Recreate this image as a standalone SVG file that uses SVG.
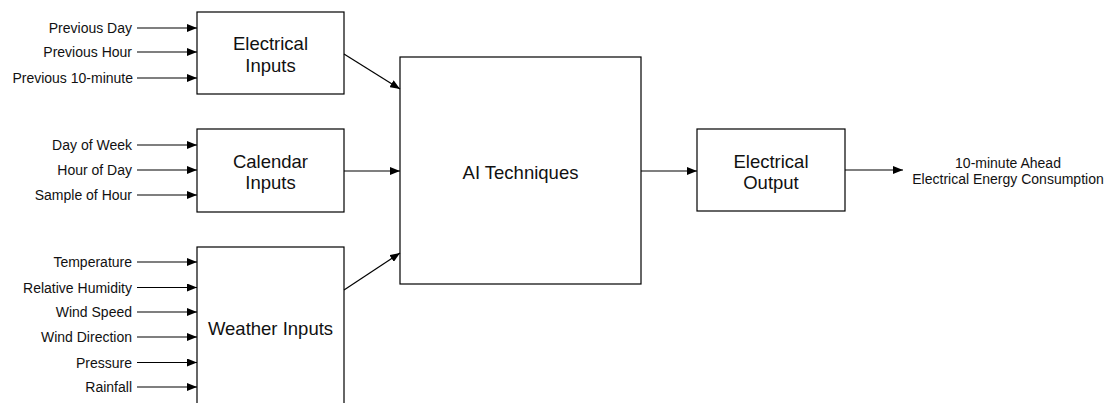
<svg xmlns="http://www.w3.org/2000/svg" width="1112" height="403" viewBox="0 0 1112 403">
<defs>
<marker id="ah" viewBox="0 0 10 8" refX="10" refY="4" markerWidth="10" markerHeight="8" markerUnits="userSpaceOnUse" orient="auto">
<path d="M0,0 L10,4 L0,8 Z" fill="#000"/>
</marker>
<style>
.box{fill:#fff;stroke:#000;stroke-width:1.2}
.big{font-family:"Liberation Sans",Arial,sans-serif;font-size:18.5px;fill:#111;text-anchor:middle}
.sm{font-family:"Liberation Sans",Arial,sans-serif;font-size:14px;fill:#111;text-anchor:end}
.out{font-family:"Liberation Sans",Arial,sans-serif;font-size:14px;fill:#111;text-anchor:middle}
.ln{stroke:#000;stroke-width:1.2;fill:none;marker-end:url(#ah)}
</style>
</defs>
<rect width="1112" height="403" fill="#fff"/>
<g id="electrical-inputs">
<rect class="box" x="197" y="12" width="147" height="82"/>
<text class="big" x="270.5" y="49.5">Electrical</text>
<text class="big" x="270.5" y="71.5">Inputs</text>
</g>
<g id="calendar-inputs">
<rect class="box" x="197" y="129" width="147" height="83"/>
<text class="big" x="270.5" y="167.5">Calendar</text>
<text class="big" x="270.5" y="189">Inputs</text>
</g>
<g id="weather-inputs">
<rect class="box" x="197" y="247" width="147" height="170"/>
<text class="big" x="270.5" y="334.5">Weather Inputs</text>
</g>
<g id="ai-techniques">
<rect class="box" x="400" y="57" width="241" height="227"/>
<text class="big" x="520.5" y="178.5">AI Techniques</text>
</g>
<g id="electrical-output">
<rect class="box" x="697" y="129" width="148" height="82"/>
<text class="big" x="771" y="167.5">Electrical</text>
<text class="big" x="771" y="188.5">Output</text>
</g>
<g id="input-labels">
<text class="sm" x="132" y="33">Previous Day</text>
<text class="sm" x="132" y="57">Previous Hour</text>
<text class="sm" x="133" y="83">Previous 10-minute</text>
<text class="sm" x="132" y="150">Day of Week</text>
<text class="sm" x="132" y="175">Hour of Day</text>
<text class="sm" x="132" y="200">Sample of Hour</text>
<text class="sm" x="132" y="267">Temperature</text>
<text class="sm" x="132" y="292.5">Relative Humidity</text>
<text class="sm" x="132" y="317">Wind Speed</text>
<text class="sm" x="132" y="342">Wind Direction</text>
<text class="sm" x="132" y="367.5">Pressure</text>
<text class="sm" x="132" y="392">Rainfall</text>
</g>
<g id="output-label">
<text class="out" x="1008" y="167.5">10-minute Ahead</text>
<text class="out" x="1008" y="184">Electrical Energy Consumption</text>
</g>
<g id="connectors">
<line class="ln" x1="137" y1="28" x2="197" y2="28"/>
<line class="ln" x1="137" y1="52" x2="197" y2="52"/>
<line class="ln" x1="137" y1="78" x2="197" y2="78"/>
<line class="ln" x1="137" y1="145" x2="197" y2="145"/>
<line class="ln" x1="137" y1="170" x2="197" y2="170"/>
<line class="ln" x1="137" y1="195" x2="197" y2="195"/>
<line class="ln" x1="137" y1="262" x2="197" y2="262"/>
<line class="ln" x1="137" y1="287.5" x2="197" y2="287.5"/>
<line class="ln" x1="137" y1="312" x2="197" y2="312"/>
<line class="ln" x1="137" y1="337" x2="197" y2="337"/>
<line class="ln" x1="137" y1="362.5" x2="197" y2="362.5"/>
<line class="ln" x1="137" y1="387" x2="197" y2="387"/>
<line class="ln" x1="344" y1="54" x2="400" y2="89"/>
<line class="ln" x1="344" y1="171" x2="400" y2="171"/>
<line class="ln" x1="344" y1="290" x2="400" y2="253"/>
<line class="ln" x1="641" y1="171" x2="697" y2="171"/>
<line class="ln" x1="845" y1="170" x2="903" y2="170"/>
</g>
</svg>
